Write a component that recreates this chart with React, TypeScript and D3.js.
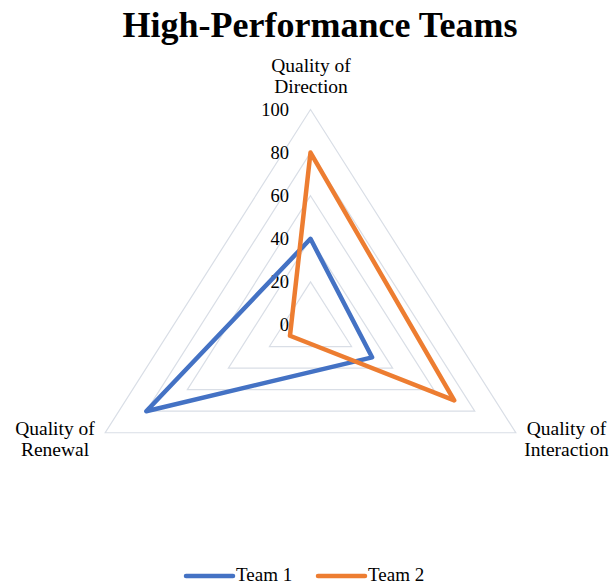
import { useEffect, useRef } from "react";
import * as d3 from "d3";

const AXES = ["Quality of\nDirection", "Quality of\nInteraction", "Quality of\nRenewal"];
const TEAM1 = [40, 30, 80];
const TEAM2 = [80, 70, 10];
const TICKS = [0, 20, 40, 60, 80, 100];
const SERIES = ["Team 1", "Team 2"];
const COLORS = ["#4472C4", "#ED7D31"];

const W = 612;
const H = 585;
const CX = 310.5;
const CY = 325;
const R = 215.5;
const KX = 1.1; // chart is stretched horizontally
const SERIF = "'Liberation Serif', 'Times New Roman', serif";

export default function App() {
  const ref = useRef<SVGSVGElement>(null);

  useEffect(() => {
    if (!ref.current) return;
    const svg = d3.select(ref.current);
    svg.selectAll("*").remove();

    const r = d3.scaleLinear().domain([0, 100]).range([0, R]);
    const ang = d3.scaleLinear().domain([0, AXES.length]).range([0, 2 * Math.PI]);
    const pt = (i: number, v: number): [number, number] => [
      CX + Math.sin(ang(i)) * r(v) * KX,
      CY - Math.cos(ang(i)) * r(v),
    ];
    const line = d3.line<[number, number]>().curve(d3.curveLinearClosed);

    // title
    svg.append("text")
      .attr("x", 320).attr("y", 37)
      .attr("text-anchor", "middle")
      .attr("font-family", SERIF)
      .attr("font-weight", "700").attr("font-size", "36px")
      .attr("fill", "#000")
      .text("High-Performance Teams");

    // grid
    TICKS.filter((t) => t > 0).forEach((t) => {
      svg.append("path")
        .attr("d", line(AXES.map((_, i) => pt(i, t))) as string)
        .attr("fill", "none").attr("stroke", "#D9DEE6").attr("stroke-width", 1.2);
    });

    // tick labels
    TICKS.forEach((t) => {
      svg.append("text")
        .attr("x", 289).attr("y", CY - r(t))
        .attr("dy", "0.35em")
        .attr("text-anchor", "end")
        .attr("font-family", SERIF)
        .attr("font-size", "18.5px").attr("fill", "#000")
        .text(String(t));
    });

    // axis labels
    const labelPos: [number, number][] = [[311, 72], [566.5, 435], [55, 435]];
    AXES.forEach((a, i) => {
      const txt = svg.append("text")
        .attr("text-anchor", "middle")
        .attr("font-family", SERIF)
        .attr("font-size", "19.5px").attr("fill", "#000");
      a.split("\n").forEach((s, k) => {
        txt.append("tspan").attr("x", labelPos[i][0]).attr("y", labelPos[i][1] + k * 21).text(s);
      });
    });

    // series
    [TEAM1, TEAM2].forEach((vals, s) => {
      svg.append("path")
        .attr("d", line(vals.map((v, i) => pt(i, v))) as string)
        .attr("fill", "none").attr("stroke", COLORS[s])
        .attr("stroke-width", 4.5).attr("stroke-linejoin", "round");
    });

    // legend
    const legX = [186, 318];
    SERIES.forEach((name, s) => {
      const g = svg.append("g").attr("transform", `translate(${legX[s]},576)`);
      g.append("line").attr("x1", 0).attr("x2", 47).attr("y1", 0).attr("y2", 0)
        .attr("stroke", COLORS[s]).attr("stroke-width", 4.5).attr("stroke-linecap", "round");
      g.append("text").attr("x", 50).attr("y", 5)
        .attr("font-family", SERIF)
        .attr("font-size", "19px").attr("fill", "#000")
        .text(name);
    });
  }, []);

  return (
    <svg ref={ref} width={W} height={H} viewBox={`0 0 ${W} ${H}`}
      style={{ position: "absolute", left: 0, top: 0, background: "#fff" }} />
  );
}
